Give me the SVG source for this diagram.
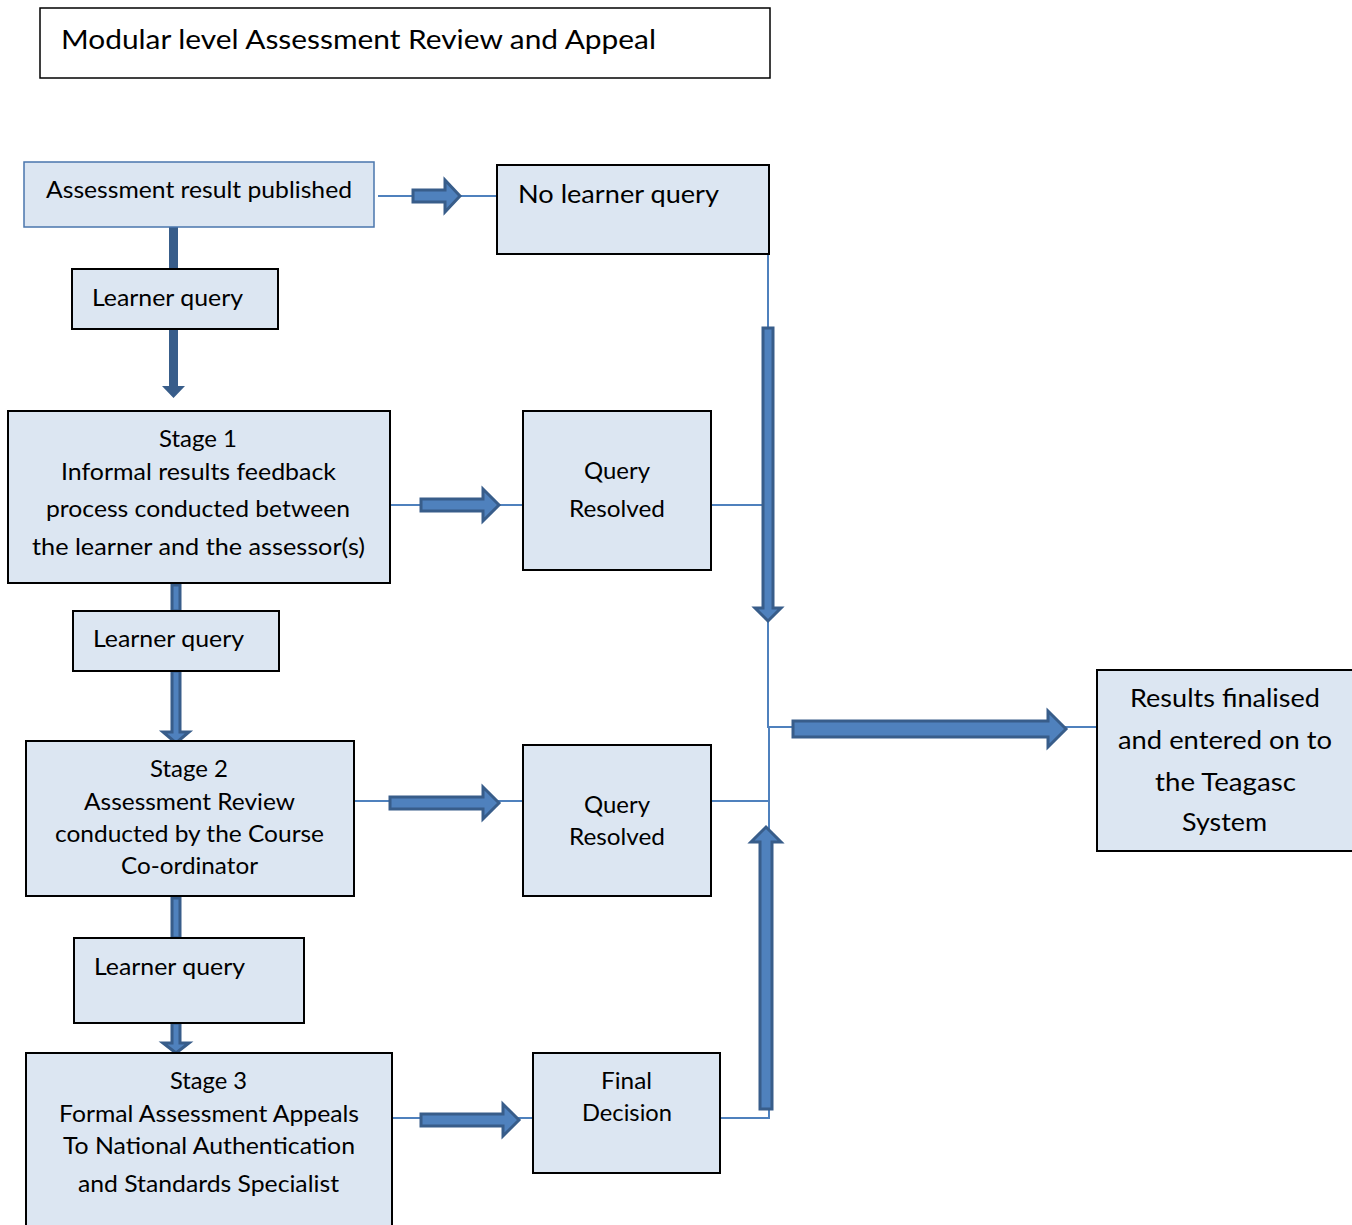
<svg xmlns="http://www.w3.org/2000/svg" width="1352" height="1225" viewBox="0 0 1352 1225">
  <style>
    .box { fill: #dce6f2; stroke: #000; stroke-width: 2; }
    .boxb { fill: #dce6f2; stroke: #4a76ad; stroke-width: 1.5; }
    .t { font-family: "Lato", "Liberation Sans", sans-serif; font-size: 23px; fill: #000; }
    .big { font-size: 25.5px; }
    .mid { font-size: 24.5px; }
    .head { font-size: 27.5px; }
    .line { fill: none; stroke: #4f81bd; stroke-width: 2; }
    .arr { fill: #4f81bd; stroke: #385d8a; stroke-width: 3; stroke-linejoin: miter; }
    .shaft { fill: #385d8a; }
  </style>

  <rect width="1352" height="1225" fill="#fff"/>

  <!-- connectors -->
  <g id="connectors">
    <!-- thin link lines -->
    <line class="line" x1="378" y1="196" x2="497" y2="196"/>
    <line class="line" x1="390" y1="505" x2="523" y2="505"/>
    <line class="line" x1="354" y1="801" x2="523" y2="801"/>
    <line class="line" x1="392" y1="1118" x2="533" y2="1118"/>
    <polyline class="line" points="711,505 768,505"/>
    <polyline class="line" points="711,801 769,801"/>
    <polyline class="line" points="720,1118 769,1118 769,727"/>
    <polyline class="line" points="768,254 768,727 1097,727"/>

    <!-- block arrows -->
    <polygon class="arr" points="413,190 445,190 445,180 460,196 445,212 445,202 413,202"/>
    <polygon class="arr" points="421,499 483,499 483,489 499,505 483,521 483,511 421,511"/>
    <polygon class="arr" points="390,797 483,797 483,787 499,803 483,819 483,809 390,809"/>
    <polygon class="arr" points="421,1114 503,1114 503,1104 519,1120 503,1136 503,1126 421,1126"/>
    <polygon class="arr" points="793,721 1048,721 1048,711 1066,729 1048,747 1048,737 793,737"/>
    <polygon class="arr" points="763,328 773,328 773,608 781,608 768,621 755,608 763,608"/>
    <polygon class="arr" points="760,1109 772,1109 772,842 781,842 766,827 751,842 760,842"/>

    <!-- learner query flow -->
    <rect class="shaft" x="169" y="227" width="9" height="42"/>
    <polygon class="shaft" points="169,329 178,329 178,386 185,386 173.5,398 162,386 169,386"/>
    <polygon class="arr" points="172,585 180,585 180,611 172,611"/>
    <polygon class="arr" points="172,671 180,671 180,732 189,732 176,743 163,732 172,732"/>
    <polygon class="arr" points="172,898 180,898 180,938 172,938"/>
    <polygon class="arr" points="172,1023 180,1023 180,1043 189,1043 176,1053 163,1043 172,1043"/>
  </g>

  <!-- title -->
  <g id="title">
    <rect x="40" y="8" width="730" height="70" fill="#fff" stroke="#000" stroke-width="1.5"/>
    <text class="t head" x="61" y="49" textLength="595" lengthAdjust="spacingAndGlyphs">Modular level Assessment Review and Appeal</text>
  </g>

  <g id="published">
    <rect class="boxb" x="24" y="162" width="350" height="65"/>
    <text class="t" x="46" y="198" textLength="306" lengthAdjust="spacingAndGlyphs">Assessment result published</text>
  </g>

  <g id="no-query">
    <rect class="box" x="497" y="165" width="272" height="89"/>
    <text class="t mid" x="518" y="203" textLength="201" lengthAdjust="spacingAndGlyphs">No learner query</text>
  </g>

  <g id="learner-query-1">
    <rect class="box" x="72" y="269" width="206" height="60"/>
    <text class="t" x="92" y="306" textLength="151" lengthAdjust="spacingAndGlyphs">Learner query</text>
  </g>

  <g id="stage-1">
    <rect class="box" x="8" y="411" width="382" height="172"/>
    <text class="t" x="159" y="447" textLength="78" lengthAdjust="spacingAndGlyphs">Stage 1</text>
    <text class="t" x="61" y="480" textLength="275" lengthAdjust="spacingAndGlyphs">Informal results feedback</text>
    <text class="t" x="46" y="517" textLength="304" lengthAdjust="spacingAndGlyphs">process conducted between</text>
    <text class="t" x="32" y="555" textLength="333" lengthAdjust="spacingAndGlyphs">the learner and the assessor(s)</text>
  </g>

  <g id="resolved-1">
    <rect class="box" x="523" y="411" width="188" height="159"/>
    <text class="t" x="584" y="479" textLength="66" lengthAdjust="spacingAndGlyphs">Query</text>
    <text class="t" x="569" y="517" textLength="96" lengthAdjust="spacingAndGlyphs">Resolved</text>
  </g>

  <g id="learner-query-2">
    <rect class="box" x="73" y="611" width="206" height="60"/>
    <text class="t" x="93" y="647" textLength="151" lengthAdjust="spacingAndGlyphs">Learner query</text>
  </g>

  <g id="stage-2">
    <rect class="box" x="26" y="741" width="328" height="155"/>
    <text class="t" x="150" y="777" textLength="78" lengthAdjust="spacingAndGlyphs">Stage 2</text>
    <text class="t" x="84" y="810" textLength="211" lengthAdjust="spacingAndGlyphs">Assessment Review</text>
    <text class="t" x="55" y="842" textLength="269" lengthAdjust="spacingAndGlyphs">conducted by the Course</text>
    <text class="t" x="121" y="874" textLength="137" lengthAdjust="spacingAndGlyphs">Co-ordinator</text>
  </g>

  <g id="resolved-2">
    <rect class="box" x="523" y="745" width="188" height="151"/>
    <text class="t" x="584" y="813" textLength="66" lengthAdjust="spacingAndGlyphs">Query</text>
    <text class="t" x="569" y="845" textLength="96" lengthAdjust="spacingAndGlyphs">Resolved</text>
  </g>

  <g id="learner-query-3">
    <rect class="box" x="74" y="938" width="230" height="85"/>
    <text class="t" x="94" y="975" textLength="151" lengthAdjust="spacingAndGlyphs">Learner query</text>
  </g>

  <g id="stage-3">
    <rect class="box" x="26" y="1053" width="366" height="180"/>
    <text class="t" x="170" y="1089" textLength="77" lengthAdjust="spacingAndGlyphs">Stage 3</text>
    <text class="t" x="59" y="1122" textLength="300" lengthAdjust="spacingAndGlyphs">Formal Assessment Appeals</text>
    <text class="t" x="63" y="1154" textLength="292" lengthAdjust="spacingAndGlyphs">To National Authentication</text>
    <text class="t" x="78" y="1192" textLength="261" lengthAdjust="spacingAndGlyphs">and Standards Specialist</text>
  </g>

  <g id="final-decision">
    <rect class="box" x="533" y="1053" width="187" height="120"/>
    <text class="t" x="601" y="1089" textLength="51" lengthAdjust="spacingAndGlyphs">Final</text>
    <text class="t" x="582" y="1121" textLength="90" lengthAdjust="spacingAndGlyphs">Decision</text>
  </g>

  <g id="results">
    <rect class="box" x="1097" y="670" width="265" height="181"/>
    <text class="t big" x="1130" y="707" textLength="190" lengthAdjust="spacingAndGlyphs">Results finalised</text>
    <text class="t big" x="1118" y="749" textLength="214" lengthAdjust="spacingAndGlyphs">and entered on to</text>
    <text class="t big" x="1155" y="791" textLength="141" lengthAdjust="spacingAndGlyphs">the Teagasc</text>
    <text class="t big" x="1182" y="831" textLength="85" lengthAdjust="spacingAndGlyphs">System</text>
  </g>
</svg>
